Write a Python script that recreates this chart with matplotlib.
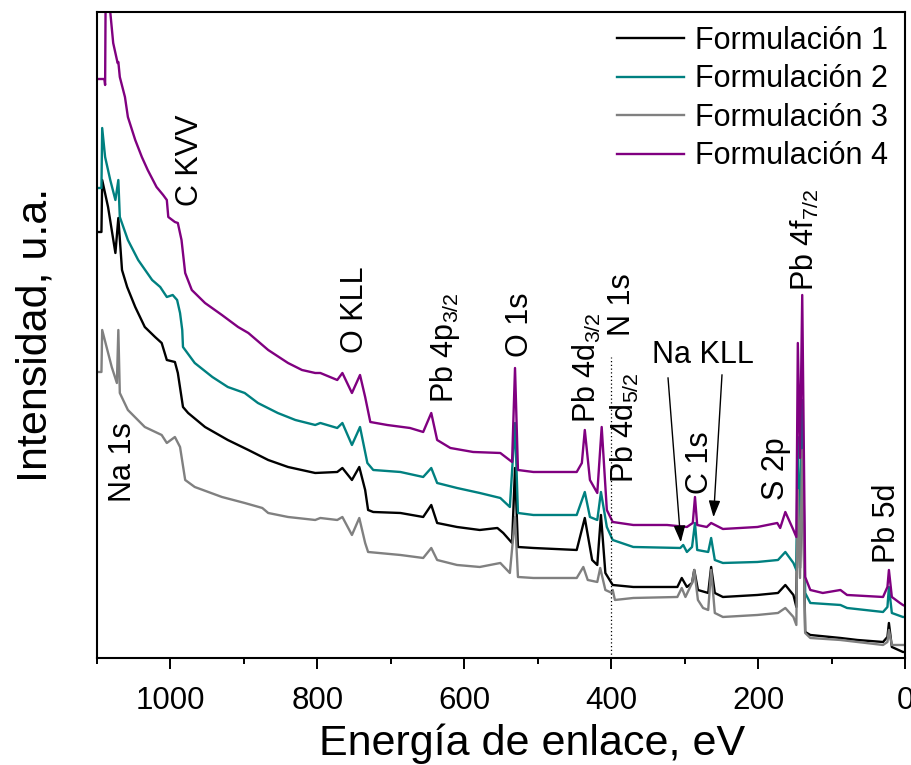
import matplotlib
matplotlib.use("Agg")
import matplotlib.pyplot as plt

plt.rcParams["font.family"] = ["Liberation Sans", "DejaVu Sans"]
plt.rcParams["mathtext.fontset"] = "custom"
plt.rcParams["mathtext.rm"] = "Liberation Sans"
plt.rcParams["mathtext.default"] = "regular"

# binding energy (eV) and intensity (a.u.)
f1_ev = [1100, 1094, 1093, 1085, 1075, 1071, 1066, 1059, 1048, 1035, 1021, 1012, 1005, 994, 990,
         983, 976, 953, 922, 894, 867, 840, 803, 773, 766, 753, 743, 735, 731, 724, 687, 656, 645,
         637, 610, 579, 555, 547, 535, 531, 527, 506, 447, 436, 426, 419, 414, 408, 398, 370, 310,
         304, 297, 290, 287, 282, 268, 264, 259, 248, 201, 173, 163, 152, 148, 146, 143, 140, 136,
         129, 88, 65, 30, 24, 22, 18, 3, 0]
f1_int = [426, 426, 478, 451, 405, 440, 388, 371, 351, 331, 321, 315, 298, 296, 285,
          251, 245, 231, 218, 208, 198, 191, 185, 186, 190, 178, 191, 168, 148, 146, 145, 141, 153,
          135, 131, 128, 130, 125, 115, 190, 111, 110, 108, 140, 98, 93, 143, 85, 73, 71, 71,
          80, 71, 75, 88, 68, 65, 91, 65, 61, 63, 65, 73, 63, 51, 190, 90, 228, 26,
          23, 20, 18, 16, 21, 35, 11, 6, 6]

f2_ev = [1100, 1094, 1093, 1089, 1082, 1075, 1071, 1069, 1058, 1044, 1025, 1014, 1005, 997, 991,
         987, 984, 983, 967, 943, 922, 899, 881, 854, 830, 803, 796, 773, 766, 753, 742, 732, 724,
         687, 656, 645, 637, 610, 579, 551, 538, 531, 527, 506, 447, 436, 429, 419, 414, 406, 398,
         370, 306, 302, 297, 290, 286, 283, 268, 264, 259, 248, 201, 173, 163, 152, 148, 146, 143,
         140, 136, 129, 88, 79, 30, 24, 22, 18, 3, 0]
f2_int = [470, 470, 530, 501, 478, 458, 478, 441, 418, 398, 378, 371, 361, 363, 358,
          345, 328, 311, 295, 281, 271, 265, 255, 245, 238, 233, 235, 230, 235, 213, 231, 195, 188,
          186, 181, 190, 175, 170, 165, 160, 151, 235, 145, 143, 143, 166, 141, 138, 166, 131, 118,
          111, 110, 113, 106, 111, 135, 108, 106, 120, 98, 95, 96, 98, 106, 95, 88, 221, 120,
          258, 65, 55, 53, 50, 46, 51, 71, 45, 41, 41]

f3_ev = [1100, 1094, 1093, 1080, 1073, 1071, 1069, 1058, 1035, 1012, 1005, 994, 987, 980, 967,
         930, 899, 875, 867, 840, 803, 796, 773, 766, 753, 743, 735, 731, 687, 656, 645, 637, 610,
         579, 551, 538, 531, 527, 506, 447, 438, 432, 419, 415, 408, 399, 398, 395, 370, 310, 304,
         299, 290, 287, 282, 275, 268, 264, 259, 248, 201, 173, 163, 152, 148, 146, 143, 140, 136,
         129, 88, 65, 30, 24, 22, 18, 3, 0]
f3_int = [286, 286, 328, 291, 275, 328, 265, 248, 231, 223, 215, 221, 211, 178, 171,
          161, 155, 150, 145, 141, 138, 140, 138, 141, 123, 140, 115, 106, 103, 100, 110, 98, 93,
          91, 95, 85, 141, 81, 80, 80, 91, 78, 76, 90, 68, 65, 68, 58, 60, 61, 70,
          61, 75, 88, 58, 50, 48, 88, 45, 41, 43, 45, 50, 41, 33, 168, 80, 208, 25,
          20, 18, 16, 13, 16, 28, 13, 13, 13]

f4_ev = [1100, 1090, 1089, 1088, 1082, 1078, 1072, 1071, 1069, 1062, 1058, 1048, 1039, 1031, 1019,
         1010, 1005, 1003, 994, 990, 985, 980, 971, 953, 930, 908, 894, 867, 840, 821, 803, 796,
         773, 766, 753, 742, 735, 728, 705, 674, 656, 645, 637, 619, 588, 551, 535, 531, 527, 506,
         447, 440, 436, 429, 419, 413, 406, 398, 370, 324, 297, 289, 286, 283, 270, 264, 248, 201,
         174, 170, 163, 152, 148, 146, 143, 140, 136, 129, 112, 88, 79, 30, 24, 22, 18, 7, 3, 0]
f4_int = [579, 579, 573, 700, 646, 615, 595, 596, 581, 561, 541, 518, 501, 488, 471,
          463, 458, 441, 436, 435, 418, 385, 368, 355, 343, 331, 325, 308, 295, 288, 285, 285,
          278, 285, 265, 283, 261, 236, 233, 230, 226, 245, 218, 210, 206, 205, 196, 290, 188, 186,
          186, 195, 228, 178, 165, 231, 148, 136, 133, 133, 131, 135, 161, 133, 131, 135, 129, 131,
          135, 130, 146, 128, 121, 315, 200, 363, 81, 68, 65, 68, 63, 61, 71, 88, 61, 55, 53, 52]

series = [
    ("Formulación 1", f1_ev, f1_int, "#000000"),
    ("Formulación 2", f2_ev, f2_int, "#008080"),
    ("Formulación 3", f3_ev, f3_int, "#808080"),
    ("Formulación 4", f4_ev, f4_int, "#800080"),
]

# peak labels: text, binding energy, height
peak_labels = [
    ("Na 1s", 1064, 196),
    ("C KVV", 973, 498),
    ("O KLL", 749, 348),
    ("Pb 4p$_{3/2}$", 626, 310),
    ("O 1s", 524, 333),
    ("Pb 4d$_{3/2}$", 433, 290),
    ("N 1s", 385, 353),
    ("Pb 4d$_{5/2}$", 382, 230),
    ("C 1s", 279, 195),
    ("S 2p", 176, 189),
    ("Pb 4f$_{7/2}$", 136, 418),
    ("Pb 5d", 24, 135),
]

fig = plt.figure(figsize=(9.12, 7.65), dpi=100)
ax = fig.add_axes([0.1064, 0.1399, 0.8860, 0.8444])

for name, ev, inten, color in series:
    ax.plot(ev, inten, color=color, lw=1.7, label=name)

# N 1s reference position
ax.vlines(400, 0, 301, colors="black", linestyles=(0, (1, 2)), lw=0.9)

for text, x, y in peak_labels:
    ax.text(x, y, text, rotation=90, ha="center", va="center", fontsize=22)

# Na KLL label with two arrows
ax.text(275, 303, "Na KLL", ha="center", va="center", fontsize=22)
ax.annotate("", xy=(305, 113), xytext=(323, 283),
            arrowprops=dict(arrowstyle="-|>,head_length=1.0,head_width=0.35", color="black", lw=1.0))
ax.annotate("", xy=(261, 138), xytext=(249, 286),
            arrowprops=dict(arrowstyle="-|>,head_length=1.0,head_width=0.35", color="black", lw=1.0))

ax.set_xlim(1100, 0)
ax.set_ylim(0, 646)
ax.set_yticks([])
ax.set_xticks([1000, 800, 600, 400, 200, 0])
ax.set_xticks([1100, 900, 700, 500, 300, 100], minor=True)
ax.tick_params(axis="x", which="major", direction="out", length=8, width=1.4,
               labelsize=22.5, pad=12)
ax.tick_params(axis="x", which="minor", direction="out", length=4.5, width=1.4)
for sp in ax.spines.values():
    sp.set_linewidth(1.5)

ax.set_xlabel("Energía de enlace, eV", fontsize=31)
ax.xaxis.set_label_coords(0.538, -0.102, transform=ax.transAxes)
ax.xaxis.label.set_va("top")
ax.set_ylabel("Intensidad, u.a.", fontsize=31, labelpad=30)

ax.legend(loc="upper right", bbox_to_anchor=(1.005, 1.012), frameon=False, fontsize=22,
          handlelength=2.2, handletextpad=0.35, labelspacing=0.28, borderaxespad=0.3)

fig.savefig("out.png", dpi=100)
